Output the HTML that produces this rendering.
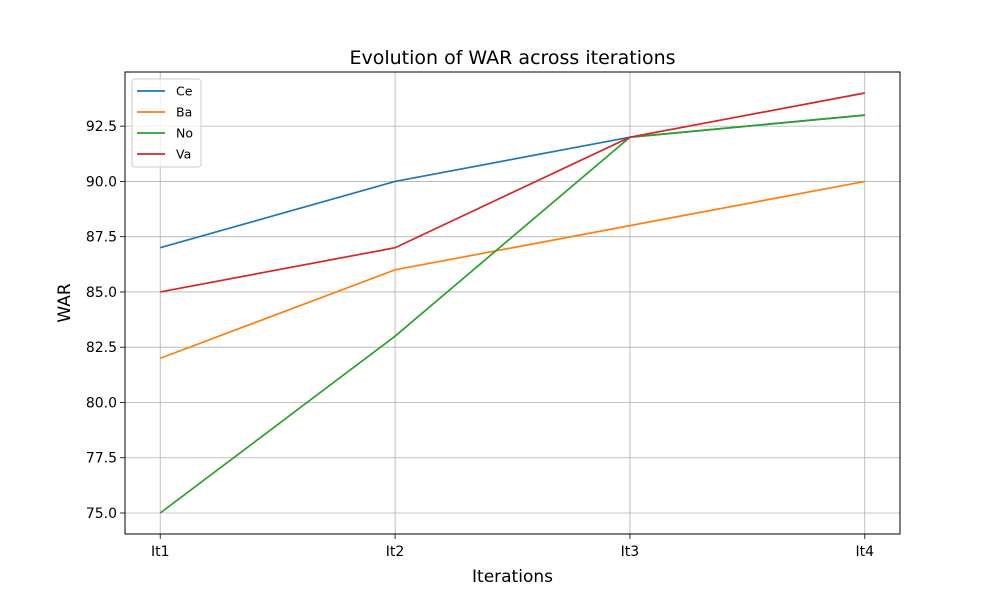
<!DOCTYPE html>
<html><head><meta charset="utf-8"><style>
body{margin:0;background:#fff;font-family:"Liberation Sans","DejaVu Sans",sans-serif;}
svg text{font-family:"DejaVu Sans","Liberation Sans",sans-serif;}
</style></head><body>
<svg id="chart" width="1000" height="600" xmlns="http://www.w3.org/2000/svg">
<rect width="1000" height="600" fill="#fff"/>
<g id="grid"></g>
<g id="lines"></g>
<rect x="125" y="72" width="775" height="462" fill="none" stroke="#000" stroke-width="1"/>
<g id="ticks"></g>
<text x="512.5" y="64" text-anchor="middle" font-size="19">Evolution of WAR across iterations</text>
<text x="512.5" y="582" text-anchor="middle" font-size="17">Iterations</text>
<text transform="translate(70,303) rotate(-90)" text-anchor="middle" font-size="17">WAR</text>
<g id="legend"></g>
</svg>
<script>
const categories = ["It1","It2","It3","It4"];
const seriesNames = ["Ce","Ba","No","Va"];
const ceValues = [87,90,92,93];
const baValues = [82,86,88,90];
const noValues = [75,83,92,93];
const vaValues = [85,87,92,94];
const yTicks = [75.0,77.5,80.0,82.5,85.0,87.5,90.0,92.5];
const colors = ["#1f77b4","#ff7f0e","#2ca02c","#d62728"];
const allSeries = [ceValues, baValues, noValues, vaValues];

const NS = "http://www.w3.org/2000/svg";
const L=125,R=900,T=72,B=534;
const allVals = allSeries.flat();
const vmin = Math.min(...allVals), vmax = Math.max(...allVals);
const pad = (vmax-vmin)*0.05;
const y0 = vmin-pad, y1 = vmax+pad;
const xPad = (categories.length-1)*0.05;
function xs(i){ return L + (i + xPad)/((categories.length-1)+2*xPad)*(R-L); }
function ys(v){ return B - (v-y0)/(y1-y0)*(B-T); }
function mk(tag, attrs, parent){ const e=document.createElementNS(NS,tag); for(const k in attrs) e.setAttribute(k,attrs[k]); parent.appendChild(e); return e; }

const grid=document.getElementById('grid'), ticks=document.getElementById('ticks'), lines=document.getElementById('lines'), legend=document.getElementById('legend');

categories.forEach((c,i)=>{
  const x=xs(i);
  const g=mk('line',{x1:x,x2:x,y1:T,y2:B,stroke:'#b0b0b0','stroke-width':0.8},grid);
  
  
  const t=mk('line',{x1:x,x2:x,y1:B,y2:B+5,stroke:'#000','stroke-width':0.8},ticks);
  
  
  const lb=mk('text',{x:x,y:B+22,'text-anchor':'middle','font-size':14},ticks);
  lb.textContent=c;
  
  
});
yTicks.forEach(v=>{
  const y=ys(v);
  const g=mk('line',{x1:L,x2:R,y1:y,y2:y,stroke:'#b0b0b0','stroke-width':0.8},grid);
  
  
  const t=mk('line',{x1:L-5,x2:L,y1:y,y2:y,stroke:'#000','stroke-width':0.8},ticks);
  
  
  const lb=mk('text',{x:L-8,y:y+5,'text-anchor':'end','font-size':14},ticks);
  lb.textContent=v.toFixed(1);
  
  
});
allSeries.forEach((vals,s)=>{
  const p=mk('polyline',{points:vals.map((v,i)=>xs(i)+','+ys(v)).join(' '),fill:'none',stroke:colors[s],'stroke-width':1.7},lines);
  
  
});
const box=mk('rect',{x:132,y:79,width:69,height:88,rx:3,fill:'#fff','fill-opacity':0.8,stroke:'#ccc'},legend);


seriesNames.forEach((n,s)=>{
  const y=91+s*21;
  const l=mk('line',{x1:137,x2:165,y1:y,y2:y,stroke:colors[s],'stroke-width':1.7},legend);
  
  
  const t=mk('text',{x:176,y:y+4.5,'font-size':12.5},legend);
  t.textContent=n;
  
  
});
</script>
</body></html>
